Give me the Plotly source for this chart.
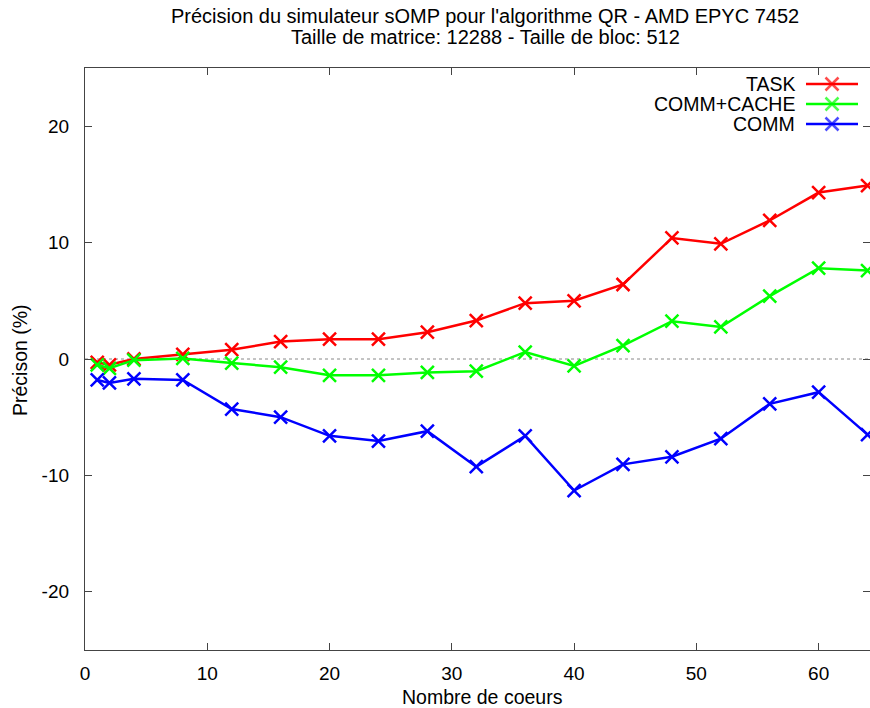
import plotly.graph_objects as go

# Number of cores
cores = [1, 2, 4, 8, 12, 16, 20, 24, 28, 32, 36, 40, 44, 48, 52, 56, 60, 64]

# Simulator precision (%) for each model
task = [-0.3, -0.5, 0.0, 0.4, 0.8, 1.5, 1.7, 1.7, 2.3, 3.3, 4.8, 5.0, 6.4, 10.4, 9.9, 11.9, 14.3, 14.9]
comm_cache = [-0.5, -0.8, -0.1, 0.05, -0.35, -0.7, -1.4, -1.4, -1.15, -1.05, 0.6, -0.6, 1.15, 3.25, 2.75, 5.4, 7.8, 7.6]
comm = [-1.8, -2.05, -1.7, -1.8, -4.3, -5.0, -6.6, -7.05, -6.2, -9.25, -6.6, -11.3, -9.05, -8.4, -6.85, -3.85, -2.85, -6.5]

series_names = ["TASK", "COMM+CACHE", "COMM"]
series_values = [task, comm_cache, comm]
series_colors = ["#ff0000", "#00ff00", "#0000ff"]

x_ticks = [0, 10, 20, 30, 40, 50, 60]
y_ticks = [-20, -10, 0, 10, 20]
y_tick_labels = ["-20", "-10", "0", "10", "20"]

title_lines = ["Précision du simulateur sOMP pour l'algorithme QR - AMD EPYC 7452",
               "Taille de matrice: 12288 - Taille de bloc: 512"]
x_title = "Nombre de coeurs"
y_title = "Précison (%)"

FONT = "Liberation Sans, Arial, Helvetica, sans-serif"
FS = 19
W, H = 870, 708
L, R, T, B = 85, 0, 68, 58
PW, PH = W - L - R, H - T - B

fig = go.Figure()

for name, vals, col in zip(series_names, series_values, series_colors):
    fig.add_trace(go.Scatter(
        x=cores, y=vals, name=name, mode="lines+markers",
        line=dict(color=col, width=2.5),
        marker=dict(symbol="x-thin", size=13, line=dict(color=col, width=2.5)),
        showlegend=False, cliponaxis=True,
    ))


def px_x(p):
    return (p - L) / PW


def px_y(p):
    return (H - B - p) / PH


# Key: label right-aligned, followed by a line sample with a cross
key_text_right = 797
key_line = (806, 858)
key_rows = [84, 104, 124]

for name, col, row in zip(series_names, series_colors, key_rows):
    x0, x1 = px_x(key_line[0]), px_x(key_line[1])
    fig.add_trace(go.Scatter(
        x=[x0, (x0 + x1) / 2, x1], y=[px_y(row)] * 3,
        xaxis="x2", yaxis="y2", mode="lines+markers",
        line=dict(color=col, width=2.5),
        marker=dict(symbol="x-thin", size=[0, 13, 0], line=dict(color=col, width=2.5)),
        showlegend=False, cliponaxis=False, hoverinfo="skip",
    ))
    fig.add_annotation(
        x=px_x(key_text_right), y=px_y(row), xref="paper", yref="paper",
        text=name, showarrow=False, xanchor="right", yanchor="middle",
        font=dict(family=FONT, size=FS + 0.5, color="#000"),
    )

# Zero reference line
fig.add_shape(type="line", xref="x", yref="y", x0=0, x1=64.2, y0=0, y1=0,
              line=dict(color="#888888", width=1, dash="dot"), layer="below")

# Titles
for i, line in enumerate(title_lines):
    fig.add_annotation(
        x=px_x(485), y=px_y(16 + i * 21), xref="paper", yref="paper",
        text=line, showarrow=False, xanchor="center", yanchor="middle",
        font=dict(family=FONT, size=20, color="#000"),
    )
fig.add_annotation(
    x=px_x(482), y=px_y(697), xref="paper", yref="paper",
    text=x_title, showarrow=False, xanchor="center", yanchor="middle",
    font=dict(family=FONT, size=FS + 0.5, color="#000"),
)
fig.add_annotation(
    x=px_x(20), y=px_y(360), xref="paper", yref="paper",
    text=y_title, showarrow=False, xanchor="center", yanchor="middle", textangle=-90,
    font=dict(family=FONT, size=FS + 0.5, color="#000"),
)

axis_common = dict(
    showgrid=False, zeroline=False, showline=True, linecolor="#444444", linewidth=1.3,
    mirror="ticks", ticks="inside", ticklen=7, tickwidth=1, tickcolor="#444444",
    tickfont=dict(family=FONT, size=FS, color="#000"),
)

fig.update_layout(
    width=W, height=H,
    margin=dict(l=L, r=R, t=T, b=B),
    paper_bgcolor="white", plot_bgcolor="white",
    xaxis=dict(range=[0, 64.2], tickvals=x_ticks, ticklabelstandoff=6, **axis_common),
    yaxis=dict(range=[-25, 25], tickvals=y_ticks, ticktext=y_tick_labels,
               ticklabelstandoff=11, **axis_common),
    xaxis2=dict(overlaying="x", range=[0, 1], visible=False),
    yaxis2=dict(overlaying="y", range=[0, 1], visible=False),
    showlegend=False,
)

fig.write_html("out.html")
